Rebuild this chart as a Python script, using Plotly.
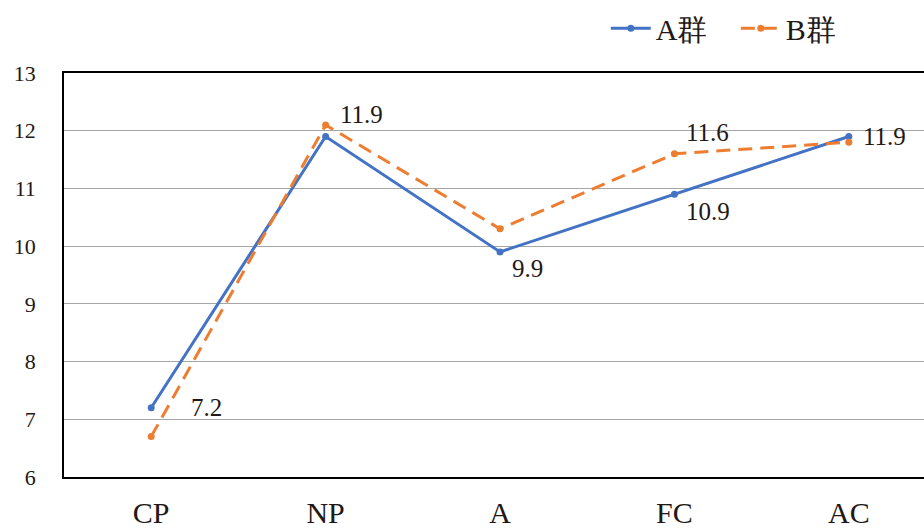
import plotly.graph_objects as go

# Categories and group scores
categories = ["CP", "NP", "A", "FC", "AC"]
group_a = [7.2, 11.9, 9.9, 10.9, 11.9]
group_b = [6.7, 12.1, 10.3, 11.6, 11.8]

# Value labels: (series values, category index, x shift, y shift)
label_specs = [
    (group_a, 0, 38, 0),
    (group_a, 1, 12, 22),
    (group_a, 2, 10, -17),
    (group_b, 3, 10, 21),
    (group_a, 3, 10, -17),
    (group_a, 4, 12, 0),
]

BLUE = "#4472C4"
ORANGE = "#ED7D31"
FONT = "Liberation Serif"
TEXT = "#231815"

fig = go.Figure()
fig.add_trace(go.Scatter(
    x=categories, y=group_a, name="A群", mode="lines+markers",
    line=dict(color=BLUE, width=3), marker=dict(size=7, color=BLUE),
))
fig.add_trace(go.Scatter(
    x=categories, y=group_b, name="B群", mode="lines+markers",
    line=dict(color=ORANGE, width=3, dash="14px,8px"), marker=dict(size=7, color=ORANGE),
))

for series, idx, dx, dy in label_specs:
    val = series[idx]
    fig.add_annotation(
        x=categories[idx], y=val, text=f"{val:.1f}", showarrow=False,
        xanchor="left", yanchor="middle", xshift=dx, yshift=dy,
        font=dict(family=FONT, size=25, color=TEXT),
    )

fig.update_layout(
    width=924, height=532,
    margin=dict(l=64, r=0, t=73, b=55),
    paper_bgcolor="white", plot_bgcolor="white",
    font=dict(family=FONT, color=TEXT),
    showlegend=True,
    legend=dict(
        orientation="h", x=0.63, y=1.175, xanchor="left", yanchor="top",
        font=dict(family=FONT, size=30, color=TEXT),
        itemwidth=40, entrywidth=75, entrywidthmode="pixels",
        tracegroupgap=0, bgcolor="rgba(0,0,0,0)",
    ),
)
fig.update_xaxes(
    type="category", range=[-0.5, 4.431],
    showline=True, linecolor="black", linewidth=1.5, mirror=True,
    showgrid=False, ticks="", tickfont=dict(family=FONT, size=30, color=TEXT),
    ticklabelstandoff=8,
)
fig.update_yaxes(
    range=[6, 13], dtick=1, tick0=6,
    showline=True, linecolor="black", linewidth=1.5, mirror=False,
    showgrid=True, gridcolor="#A6A6A6", gridwidth=1,
    zeroline=False, ticks="", tickfont=dict(family=FONT, size=22, color=TEXT),
    ticklabelstandoff=22,
)

fig.write_html("out.html")
